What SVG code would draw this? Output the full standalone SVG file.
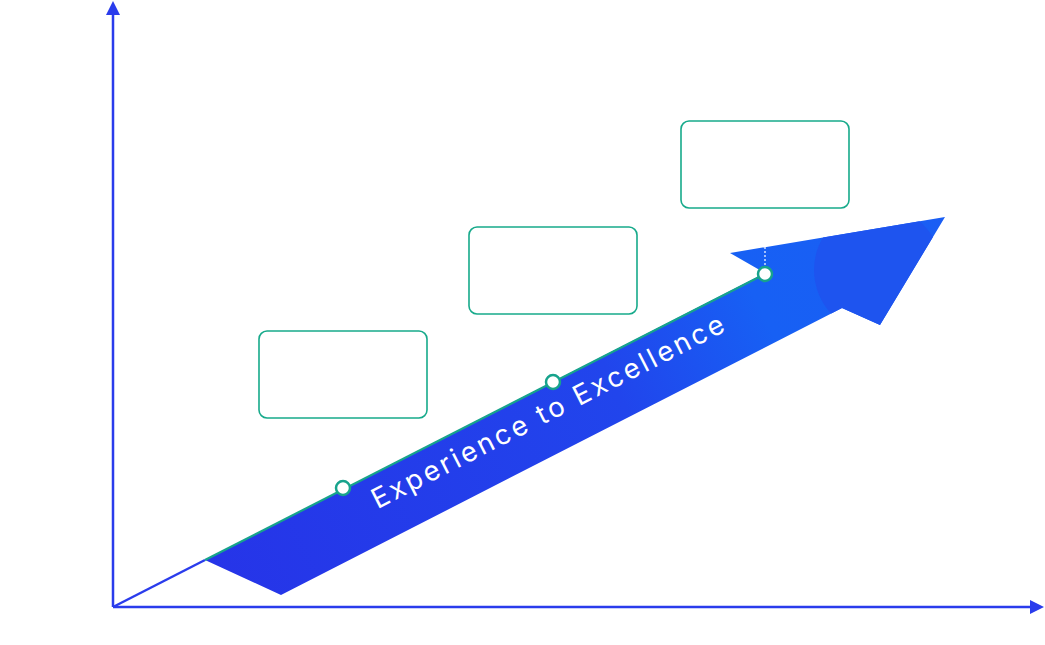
<svg xmlns="http://www.w3.org/2000/svg" width="1045" height="645" viewBox="0 0 1045 645">
  <style>
    .axis { stroke: #2A3CEC; stroke-width: 2.5; fill: none; }
    .box rect { fill: #FFFFFF; stroke: #17AA8B; stroke-width: 1.6; }
    .dot { fill: #FFFFFF; stroke: #17A38C; stroke-width: 2.5; }
    .label { font-family: Inter, "Liberation Sans", sans-serif; font-size: 27.5px; font-weight: 400; fill: #FFFFFF; }
  </style>
  <defs>
    <marker id="axHead" viewBox="0 0 14 14" refX="0" refY="7" markerWidth="14" markerHeight="14" markerUnits="userSpaceOnUse" orient="auto">
      <path d="M0,0 L14,7 L0,14 Z" fill="#2A3CEC"/>
    </marker>
    <linearGradient id="shaftGrad" x1="205" y1="580" x2="945" y2="217" gradientUnits="userSpaceOnUse">
      <stop offset="0" stop-color="#2634E8"/>
      <stop offset="0.55" stop-color="#2145EC"/>
      <stop offset="0.75" stop-color="#1760F4"/>
      <stop offset="1" stop-color="#1A5EF4"/>
    </linearGradient>
    <clipPath id="arrowClip">
      <path d="M205,560 L765,273 L730,253 L945,217 L880,325 L842,308 L281,595 Z"/>
    </clipPath>
  </defs>

  <g id="axes">
    <line class="axis" x1="113" y1="607" x2="113" y2="15" marker-end="url(#axHead)"/>
    <line class="axis" x1="113" y1="607" x2="1030" y2="607" marker-end="url(#axHead)"/>
  </g>

  <g id="growth-arrow">
    <path d="M205,560 L765,273 L730,253 L945,217 L880,325 L842,308 L281,595 Z" fill="url(#shaftGrad)"/>
    <circle cx="878" cy="270" r="64" fill="#1E54EF" clip-path="url(#arrowClip)"/>
    <text class="label" x="552" y="420" text-anchor="middle" textLength="392" lengthAdjust="spacing" transform="rotate(-27.07 552 420)">Experience to Excellence</text>
  </g>

  <g id="connectors">
    <line x1="113" y1="607" x2="205" y2="560" stroke="#2A3CEC" stroke-width="2.5"/>
    <line x1="205" y1="560" x2="765" y2="274" stroke="#17A38C" stroke-width="2.2"/>
    <line x1="765" y1="247" x2="765" y2="266" stroke="#FFFFFF" stroke-width="1.2" stroke-dasharray="2,2"/>
  </g>

  <g id="milestone-1">
    <circle class="dot" cx="343" cy="488" r="7"/>
  </g>
  <g id="milestone-2">
    <circle class="dot" cx="553" cy="382" r="7"/>
  </g>
  <g id="milestone-3">
    <circle class="dot" cx="765" cy="274" r="7"/>
  </g>

  <g id="box-1" class="box">
    <rect x="259" y="331" width="168" height="87" rx="8"/>
  </g>
  <g id="box-2" class="box">
    <rect x="469" y="227" width="168" height="87" rx="8"/>
  </g>
  <g id="box-3" class="box">
    <rect x="681" y="121" width="168" height="87" rx="8"/>
  </g>
</svg>
